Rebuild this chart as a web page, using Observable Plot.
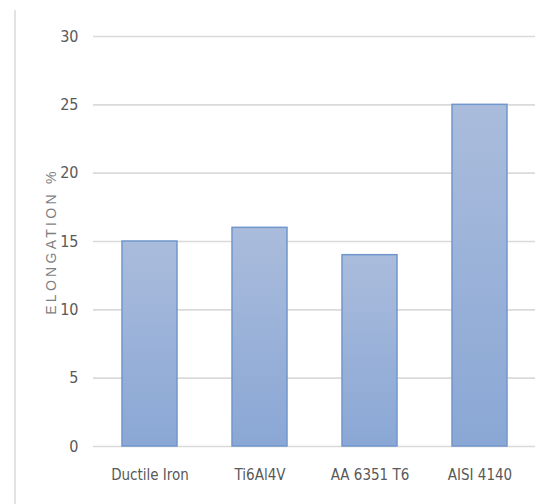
<!DOCTYPE html>
<html>
<head>
<meta charset="utf-8">
<script src="https://cdn.jsdelivr.net/npm/d3@7"></script>
<script src="https://cdn.jsdelivr.net/npm/@observablehq/plot@0.6"></script>
<style>
  html, body { margin: 0; padding: 0; background: #fff; }
  #wrap { position: relative; width: 549px; height: 504px; }
  #edge { position: absolute; left: 14px; top: 10px; width: 2px; height: 494px; background: #e3e3e3; }
</style>
</head>
<body>
<div id="wrap"><div id="edge"></div></div>
<script>
const categories = ["Ductile Iron", "Ti6Al4V", "AA 6351 T6", "AISI 4140"];
const elongation = [15, 16, 14, 25];
const yTicks = [0, 5, 10, 15, 20, 25, 30];

const data = categories.map((c, i) => ({material: c, value: elongation[i]}));
const font = "'Liberation Sans Narrow', 'DejaVu Sans Condensed', sans-serif";

const chart = Plot.plot({
  width: 549,
  height: 504,
  marginLeft: 93,
  marginRight: 14,
  marginTop: 36,
  marginBottom: 58,
  style: {fontFamily: font, fontSize: "15px", color: "#595959", background: "transparent"},
  x: {domain: categories, paddingInner: 0.5, paddingOuter: 0.25},
  y: {domain: [0, 30]},
  marks: [
    Plot.gridY(yTicks, {stroke: "#dadada", strokeWidth: 1.6, strokeOpacity: 1}),
    Plot.axisY(yTicks, {tickSize: 0, tickPadding: 15, fontSize: 16, label: "ELONGATION %", labelAnchor: "center", labelArrow: false, labelOffset: 47, fill: "#595959"}),
    Plot.axisX({tickSize: 0, tickPadding: 23, label: null, fill: "#595959"}),
    Plot.barY(data, {x: "material", y: "value", fill: "url(#barGrad)", stroke: "#7097cc", strokeWidth: 1.5})
  ]
});

const svg = d3.select(chart);
const defs = svg.insert("defs", ":first-child");
const g = defs.append("linearGradient").attr("id", "barGrad").attr("x1", 0).attr("y1", 0).attr("x2", 0).attr("y2", 1);
g.append("stop").attr("offset", "0%").attr("stop-color", "#aabcdc");
g.append("stop").attr("offset", "100%").attr("stop-color", "#8aa7d5");

svg.selectAll('[aria-label="y-axis label"] text, [aria-label="y-axis label"]')
  .attr("font-family", "'Liberation Sans', Arial, sans-serif")
  .attr("font-size", 14)
  .attr("letter-spacing", "3.3px")
  .attr("fill", "#7f7f7f");

chart.style.position = "absolute";
chart.style.left = "0";
chart.style.top = "0";
document.getElementById("wrap").appendChild(chart);
</script>
</body>
</html>
